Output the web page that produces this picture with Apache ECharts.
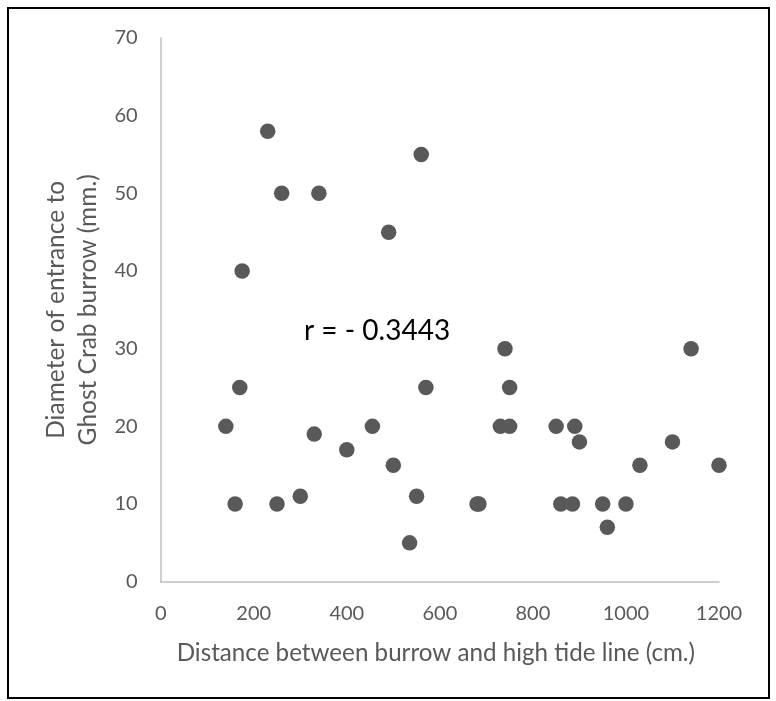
<!DOCTYPE html>
<html><head><meta charset="utf-8">
<script src="https://cdn.jsdelivr.net/npm/echarts@6/dist/echarts.min.js"></script>
<style>html,body{margin:0;padding:0;background:#fff}#c{width:776px;height:701px}</style>
</head><body><div id="c"></div>
<script>
const distances = [140,160,170,250,300,330,400,455,500,550,535,570,230,260,340,175,490,560,740,750,730,750,850,890,900,680,684,860,885,950,1000,960,1030,1100,1140,1200];
const diameters = [20,10,25,10,11,19,17,20,15,11,5,25,58,50,50,40,45,55,30,25,20,20,20,20,18,10,10,10,10,10,10,7,15,18,30,15];
const xTicks = [0,200,400,600,800,1000,1200];
const yTicks = [0,10,20,30,40,50,60,70];
const annotation = 'r = - 0.3443';

const points = distances.map((d,i)=>[d, diameters[i]]);
const font = 'Lato';
const chart = echarts.init(document.getElementById('c'));
chart.setOption({
  animation:false,
  backgroundColor:'#fff',
  grid:{left:160.7, right:57, top:38, bottom:119.3},
  xAxis:{type:'value', min:xTicks[0], max:xTicks[xTicks.length-1], interval:200,
    name:'Distance between burrow and high tide line (cm.)', nameLocation:'middle', nameGap:59,
    nameTextStyle:{color:'#595959', fontSize:24.2, fontFamily:font, padding:[0,8,0,0]},
    axisLine:{show:true, lineStyle:{color:'#bfbfbf', width:1.5}}, axisTick:{show:false},
    splitLine:{show:false},
    axisLabel:{color:'#595959', fontSize:20, fontFamily:font, margin:22, formatter:v=>String(v)}},
  yAxis:{type:'value', min:yTicks[0], max:yTicks[yTicks.length-1], interval:10,
    name:'Diameter of entrance to\nGhost Crab burrow (mm.)', nameLocation:'middle', nameGap:48,
    nameRotate:90,
    nameTextStyle:{color:'#595959', fontSize:24.5, fontFamily:font, lineHeight:32},
    axisLine:{show:true, lineStyle:{color:'#bfbfbf', width:1.5}}, axisTick:{show:false},
    splitLine:{show:false},
    axisLabel:{color:'#595959', fontSize:20, fontFamily:font, margin:23, formatter:v=>String(v)}},
  series:[{type:'scatter', data:points, symbolSize:15.5, itemStyle:{color:'#595959', opacity:1}}],
  graphic:[
    {type:'rect', shape:{x:8, y:8, width:761, height:690}, style:{fill:'none', stroke:'#000', lineWidth:2}, silent:true},
    {type:'text', x:304, y:331, style:{text:annotation, fill:'#000', font:'28px Lato', textVerticalAlign:'middle', verticalAlign:'middle'}}
  ]
});
</script></body></html>
